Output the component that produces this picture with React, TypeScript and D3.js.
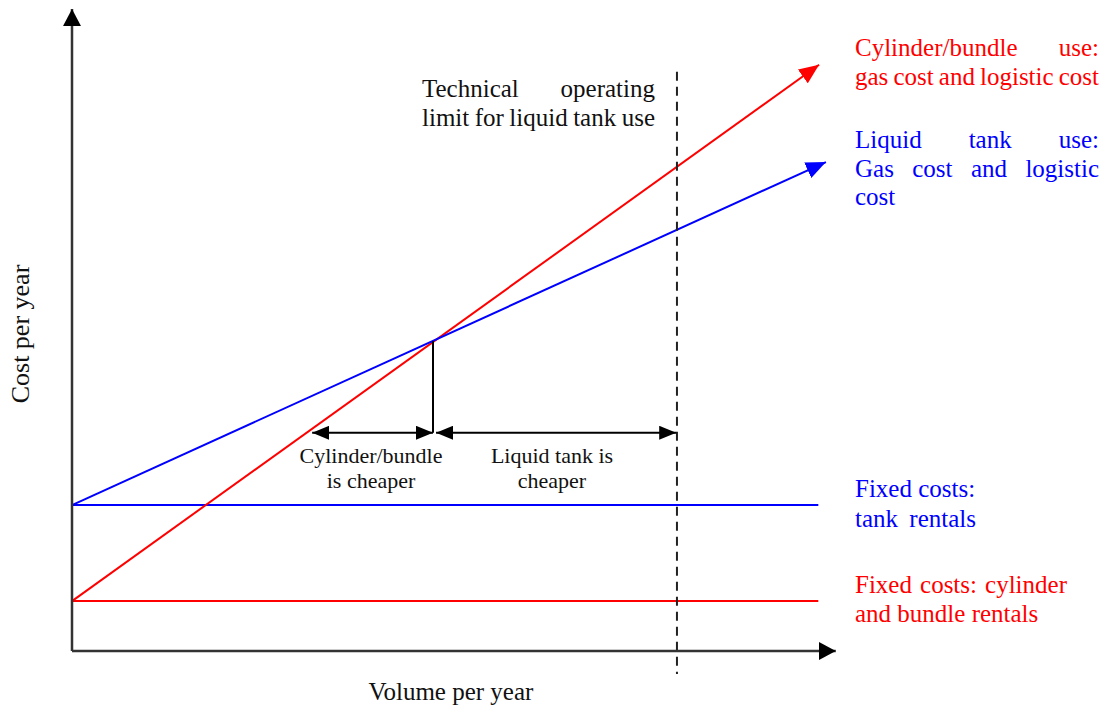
import React from "react";
import * as d3 from "d3";

// ---- data (conceptual units: volume 0..10, cost 0..10) ----
const volumeDomain = [0, 10];
const costDomain = [0, 10];
const axisEnd = { volume: 10.05, cost: 10.03 };
const cylinderFixedCost = 0.78;
const tankFixedCost = 2.28;
const fixedLineEnd = 9.82;
const cylinderTotal = [
  { v: 0, c: 0.78 },
  { v: 9.83, c: 9.16 },
];
const tankTotal = [
  { v: 0, c: 2.28 },
  { v: 9.92, c: 7.64 },
];
const breakEven = { v: 4.75, c: 4.84 };
const operatingLimit = { v: 7.96, from: -0.36, to: 9.05 };
const rangeArrowCost = 3.41;
const cylinderCheaper = [3.16, 4.75];
const tankCheaper = [4.79, 7.95];

const RED = "#ff0000";
const BLUE = "#0000ff";
const FONT = '"Liberation Serif", "Times New Roman", serif';
const FS = 25;
const FS_SMALL = 22;

let ctx: CanvasRenderingContext2D | null = null;
function measure(text: string, size: number) {
  if (!ctx) ctx = document.createElement("canvas").getContext("2d");
  if (!ctx) return text.length * size * 0.45;
  ctx.font = `${size}px "Liberation Serif"`;
  return ctx.measureText(text).width;
}

function Justified({
  text,
  x0,
  x1,
  y,
  size,
  fill,
}: {
  text: string;
  x0: number;
  x1?: number;
  y: number;
  size: number;
  fill: string;
}) {
  const words = text.split(" ");
  if (x1 === undefined || words.length === 1) {
    return (
      <text x={x0} y={y} fontSize={size} fill={fill} fontFamily={FONT} style={{ whiteSpace: "pre" }}>
        {text}
      </text>
    );
  }
  const widths = words.map((w) => measure(w, size));
  const total = widths.reduce((a, b) => a + b, 0);
  const gap = (x1 - x0 - total) / (words.length - 1);
  let cx = x0;
  return (
    <g>
      {words.map((w, i) => {
        const el = (
          <text key={i} x={cx} y={y} fontSize={size} fill={fill} fontFamily={FONT}>
            {w}
          </text>
        );
        cx += widths[i] + gap;
        return el;
      })}
    </g>
  );
}

export default function App() {
  const W = 1108;
  const H = 709;
  const x = d3.scaleLinear().domain(volumeDomain).range([72, 832]);
  const y = d3.scaleLinear().domain(costDomain).range([651, 11]);
  const line = d3
    .line<{ v: number; c: number }>()
    .x((d) => x(d.v))
    .y((d) => y(d.c));

  return (
    <svg
      width={W}
      height={H}
      style={{ position: "absolute", left: 0, top: 0, background: "#fff" }}
    >
      <defs>
        <marker id="axisArrow" markerUnits="userSpaceOnUse" markerWidth={18} markerHeight={18} refX={17} refY={9} orient="auto">
          <path d="M0,0 L17,9 L0,18 Z" fill="#000" />
        </marker>
        <marker id="redArrow" markerUnits="userSpaceOnUse" markerWidth={21} markerHeight={17} refX={20} refY={8.5} orient="auto">
          <path d="M0,0 L20,8.5 L0,17 Z" fill={RED} />
        </marker>
        <marker id="blueArrow" markerUnits="userSpaceOnUse" markerWidth={21} markerHeight={17} refX={20} refY={8.5} orient="auto">
          <path d="M0,0 L20,8.5 L0,17 Z" fill={BLUE} />
        </marker>
        <marker id="blackArrow" markerUnits="userSpaceOnUse" markerWidth={18} markerHeight={14} refX={17} refY={7} orient="auto-start-reverse">
          <path d="M0,0 L17,7 L0,14 Z" fill="#000" />
        </marker>
      </defs>

      {/* fixed cost lines */}
      <line x1={x(0)} x2={x(fixedLineEnd)} y1={y(tankFixedCost)} y2={y(tankFixedCost)} stroke={BLUE} strokeWidth={2} />
      <line x1={x(0)} x2={x(fixedLineEnd)} y1={y(cylinderFixedCost)} y2={y(cylinderFixedCost)} stroke={RED} strokeWidth={2} />

      {/* total cost lines */}
      <path d={line(cylinderTotal) || ""} stroke={RED} strokeWidth={2} fill="none" markerEnd="url(#redArrow)" />
      <path d={line(tankTotal) || ""} stroke={BLUE} strokeWidth={2} fill="none" markerEnd="url(#blueArrow)" />

      {/* operating limit */}
      <line
        x1={x(operatingLimit.v)}
        x2={x(operatingLimit.v)}
        y1={y(operatingLimit.to)}
        y2={y(operatingLimit.from)}
        stroke="#222"
        strokeWidth={2}
        strokeDasharray="9,6"
      />

      {/* break-even drop line */}
      <line x1={x(breakEven.v)} x2={x(breakEven.v)} y1={y(breakEven.c)} y2={y(rangeArrowCost)} stroke="#000" strokeWidth={2} />

      {/* range arrows */}
      <line
        x1={x(cylinderCheaper[0])}
        x2={x(cylinderCheaper[1])}
        y1={y(rangeArrowCost)}
        y2={y(rangeArrowCost)}
        stroke="#000"
        strokeWidth={2}
        markerStart="url(#blackArrow)"
        markerEnd="url(#blackArrow)"
      />
      <line
        x1={x(tankCheaper[0])}
        x2={x(tankCheaper[1])}
        y1={y(rangeArrowCost)}
        y2={y(rangeArrowCost)}
        stroke="#000"
        strokeWidth={2}
        markerStart="url(#blackArrow)"
        markerEnd="url(#blackArrow)"
      />

      {/* axes */}
      <line x1={x(0)} x2={x(0)} y1={y(0)} y2={y(axisEnd.cost)} stroke="#333" strokeWidth={2.5} markerEnd="url(#axisArrow)" />
      <line x1={x(0)} x2={x(axisEnd.volume)} y1={y(0)} y2={y(0)} stroke="#333" strokeWidth={2.5} markerEnd="url(#axisArrow)" />

      {/* axis titles */}
      <text x={451} y={700} textAnchor="middle" fontSize={FS} fontFamily={FONT} fill="#111">
        Volume per year
      </text>
      <text transform="translate(29,334) rotate(-90)" textAnchor="middle" fontSize={FS + 1} fontFamily={FONT} fill="#111">
        Cost per year
      </text>

      {/* operating limit label */}
      <Justified text="Technical operating" x0={422} x1={655} y={97} size={FS} fill="#111" />
      <Justified text="limit for liquid tank use" x0={422} x1={655} y={126} size={FS} fill="#111" />

      {/* range labels */}
      <text x={371} y={463} textAnchor="middle" fontSize={FS_SMALL} fontFamily={FONT} fill="#111">Cylinder/bundle</text>
      <text x={371} y={488} textAnchor="middle" fontSize={FS_SMALL} fontFamily={FONT} fill="#111">is cheaper</text>
      <text x={552} y={463} textAnchor="middle" fontSize={FS_SMALL} fontFamily={FONT} fill="#111">Liquid tank is</text>
      <text x={552} y={488} textAnchor="middle" fontSize={FS_SMALL} fontFamily={FONT} fill="#111">cheaper</text>

      {/* right side legend labels */}
      <Justified text="Cylinder/bundle use:" x0={855} x1={1099} y={56} size={FS} fill={RED} />
      <Justified text="gas cost and logistic cost" x0={855} x1={1099} y={85} size={FS} fill={RED} />

      <Justified text="Liquid tank use:" x0={855} x1={1099} y={148} size={FS} fill={BLUE} />
      <Justified text="Gas cost and logistic" x0={855} x1={1099} y={177} size={FS} fill={BLUE} />
      <Justified text="cost" x0={855} y={205} size={FS} fill={BLUE} />

      <Justified text="Fixed costs:" x0={855} y={497} size={FS} fill={BLUE} />
      <Justified text="tank rentals" x0={855} x1={976} y={527} size={FS} fill={BLUE} />

      <Justified text="Fixed costs: cylinder" x0={855} x1={1067} y={593} size={FS} fill={RED} />
      <Justified text="and bundle rentals" x0={855} y={622} size={FS} fill={RED} />
    </svg>
  );
}
